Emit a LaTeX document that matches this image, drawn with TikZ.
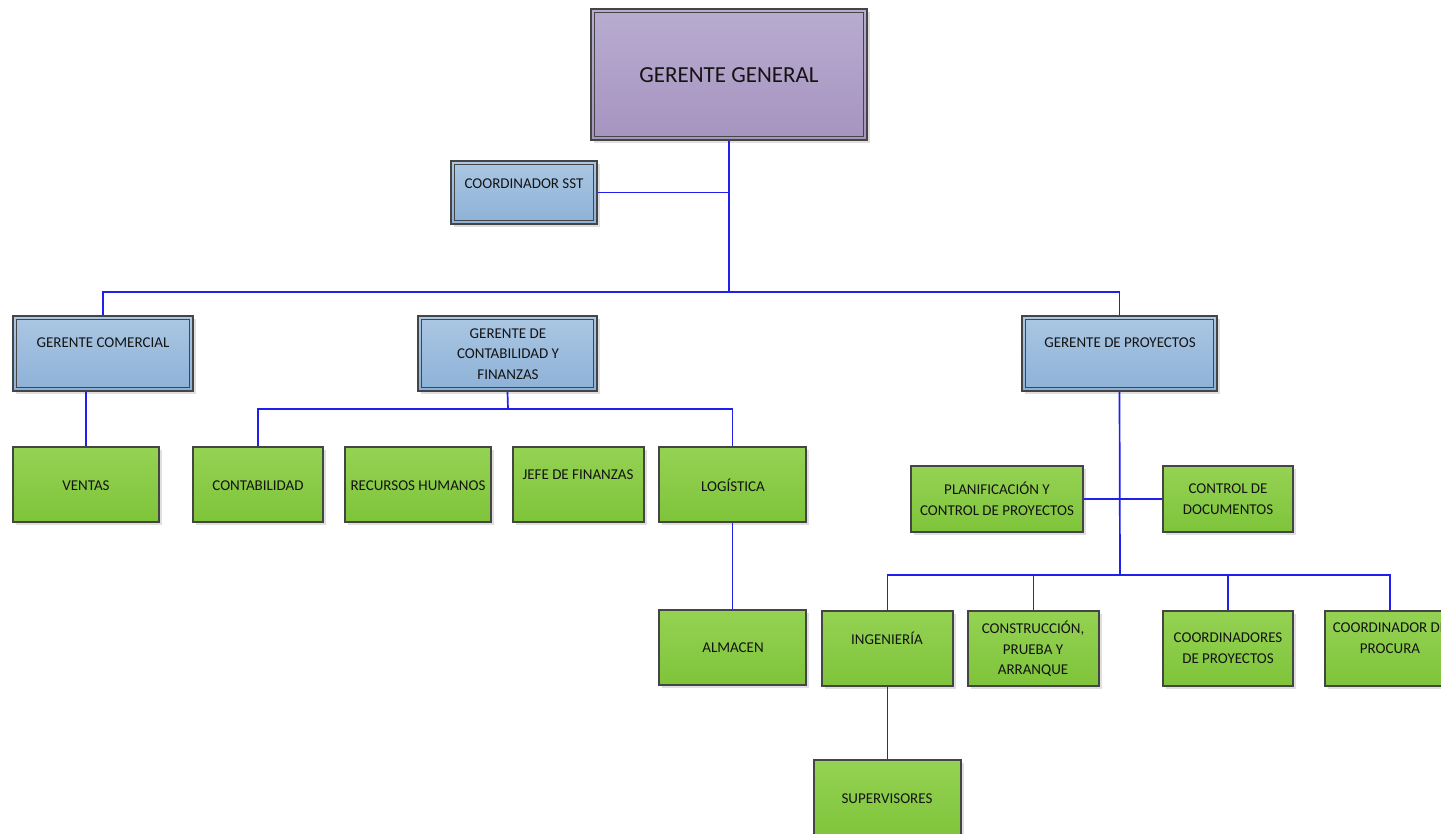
\documentclass[tikz,border=0pt]{standalone}
\usepackage{fontspec}
\setmainfont{Carlito}
\usetikzlibrary{shadows}

\definecolor{linkblue}{HTML}{1F1FF0}
\definecolor{edgegray}{HTML}{454545}
\definecolor{purpletop}{HTML}{B8ACD0}
\definecolor{purplebot}{HTML}{A694C0}
\definecolor{bluetop}{HTML}{ABC7E3}
\definecolor{bluebot}{HTML}{8DB1D7}
\definecolor{greentop}{HTML}{95D253}
\definecolor{greenbot}{HTML}{7EC43A}

\tikzset{
  boxshadow/.style={drop shadow={shadow xshift=2.5pt, shadow yshift=-2.5pt, opacity=0.28, fill=black!45}},
  framed/.style={draw=edgegray, line width=1.6pt, boxshadow,
    path picture={\draw[edgegray, line width=1.3pt]
      ([shift={(3.2pt,-3.2pt)}]path picture bounding box.north west) rectangle
      ([shift={(-3.2pt,3.2pt)}]path picture bounding box.south east);}},
  headbox/.style={framed, top color=purpletop, bottom color=purplebot},
  mgrbox/.style={framed, top color=bluetop, bottom color=bluebot},
  unitbox/.style={draw=edgegray, line width=1.3pt, boxshadow, top color=greentop, bottom color=greenbot},
  lbl/.style={font=\fontsize{15}{20.5}\selectfont, align=center, inner sep=0pt, text=black!92},
  biglbl/.style={font=\fontsize{23}{27}\selectfont, align=center, inner sep=0pt, text=black!92},
  conn/.style={draw=linkblue, line width=1.7pt},
}

% name, x1, y1, x2, y2, style
\newcommand\orgbox[6]{%
  \node[#6, inner sep=0pt, minimum width={(#4-#2)*1pt}, minimum height={(#5-#3)*1pt}]
    (#1) at ({(#2+#4)/2},{(#3+#5)/2}) {};}
% name, x, y, style, text
\newcommand\orgtext[5]{\node[#4] (#1) at (#2,#3) {#5};}

\begin{document}
\begin{tikzpicture}[x=1pt, y=-1pt]
  \useasboundingbox (0,0) rectangle (1441,833);
  \clip (0,0) rectangle (1441,833);

  % junction points of the connector buses
  \coordinate (busTop) at (729,292);
  \coordinate (busFin) at (508,409);
  \coordinate (busProj) at (1120,575);

  % boxes
  \orgbox{gg}{591}{9}{867}{140}{headbox}
  \orgbox{sst}{451}{161}{597}{224}{mgrbox}
  \orgbox{gc}{13}{316}{193}{391}{mgrbox}
  \orgbox{gcf}{418}{316}{597}{391}{mgrbox}
  \orgbox{gp}{1022}{316}{1217}{391}{mgrbox}

  \orgbox{ventas}{13}{447}{159}{522}{unitbox}
  \orgbox{cont}{193}{447}{323}{522}{unitbox}
  \orgbox{rrhh}{345}{447}{491}{522}{unitbox}
  \orgbox{jefe}{513}{447}{644}{522}{unitbox}
  \orgbox{log}{659}{447}{806}{522}{unitbox}
  \orgbox{alm}{659}{610}{806}{685}{unitbox}

  \orgbox{plan}{911}{466}{1083}{532}{unitbox}
  \orgbox{cdoc}{1163}{466}{1293}{532}{unitbox}
  \orgbox{ing}{822}{611}{953}{686}{unitbox}
  \orgbox{cons}{968}{611}{1099}{686}{unitbox}
  \orgbox{coordp}{1163}{611}{1293}{686}{unitbox}
  \orgbox{proc}{1325}{611}{1455}{686}{unitbox}
  \orgbox{sup}{814}{760}{961}{838}{unitbox}

  % connectors
  \draw[conn] (gg.south) -- (busTop);
  \draw[conn] (sst.east) -- (sst.east -| busTop);
  \draw[conn] (gc.north) |- (busTop) -| (gp.north);
  \draw[conn] (ventas.north) -- (ventas.north |- gc.south);
  \draw[conn] (gcf.south) -- (busFin);
  \draw[conn] (cont.north) |- (busFin) -| (log.north);
  \draw[conn] (log.south) -- (alm.north);
  \draw[conn] (gp.south) -- (busProj);
  \draw[conn] (plan.east) -- (cdoc.west);
  \draw[conn] (ing.north) |- (busProj) -| (proc.north);
  \draw[conn] (cons.north) -- (cons.north |- busProj);
  \draw[conn] (coordp.north) -- (coordp.north |- busProj);
  \draw[conn] (ing.south) -- (sup.north);

  % labels
  \orgtext{gg-t}{729}{75}{biglbl}{GERENTE GENERAL}
  \orgtext{sst-t}{524}{184}{lbl}{COORDINADOR SST}
  \orgtext{gc-t}{103}{343}{lbl}{GERENTE COMERCIAL}
  \orgtext{gcf-t}{508}{354}{lbl}{GERENTE DE\\CONTABILIDAD Y\\FINANZAS}
  \orgtext{gp-t}{1120}{343}{lbl}{GERENTE DE PROYECTOS}

  \orgtext{ventas-t}{86}{486}{lbl}{VENTAS}
  \orgtext{cont-t}{258}{486}{lbl}{CONTABILIDAD}
  \orgtext{rrhh-t}{418}{486}{lbl}{RECURSOS HUMANOS}
  \orgtext{jefe-t}{578}{475}{lbl}{JEFE DE FINANZAS}
  \orgtext{log-t}{733}{485}{lbl}{LOGÍSTICA}
  \orgtext{alm-t}{733}{648}{lbl}{ALMACEN}

  \orgtext{plan-t}{997}{499}{lbl}{PLANIFICACIÓN Y\\CONTROL DE PROYECTOS}
  \orgtext{cdoc-t}{1228}{499}{lbl}{CONTROL DE\\DOCUMENTOS}
  \orgtext{ing-t}{887}{638}{lbl}{INGENIERÍA}
  \orgtext{cons-t}{1033}{649}{lbl}{CONSTRUCCIÓN,\\PRUEBA Y\\ARRANQUE}
  \orgtext{coordp-t}{1228}{648}{lbl}{COORDINADORES\\DE PROYECTOS}
  \orgtext{proc-t}{1390}{638}{lbl}{COORDINADOR DE\\PROCURA}
  \orgtext{sup-t}{887}{799}{lbl}{SUPERVISORES}
\end{tikzpicture}
\end{document}
